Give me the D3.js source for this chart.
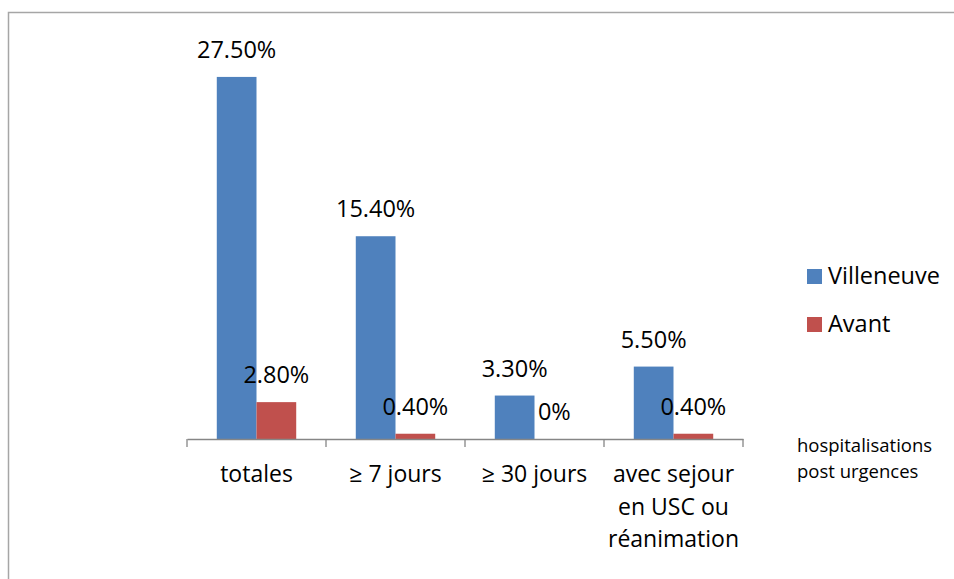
<!DOCTYPE html>
<html lang="fr">
<head>
    <meta charset="UTF-8">
    <title>Hospitalisations post urgences</title>
    <style>
        body { margin: 0; background: #fff; }
        svg { display: block; font-family: "Open Sans", sans-serif; }
    </style>
</head>
<body>
<svg></svg>
<script src="https://d3js.org/d3.v7.min.js"></script>
<script>
    var categories = [["totales"], ["\u2265 7 jours"], ["\u2265 30 jours"], ["avec sejour", "en USC ou", "r\u00e9animation"]];
    var series = ["Villeneuve", "Avant"];
    var villeneuve = [27.5, 15.4, 3.3, 5.5];
    var avant = [2.8, 0.4, 0, 0.4];
    var colors = ["#4F81BD", "#C0504D"];
    var axisTitle = ["hospitalisations", "post urgences"];

    var width = 954, height = 579;
    var svg = d3.select("svg").attr("width", width).attr("height", height);

    // outer frame, runs off the right and bottom edge like the original
    svg.append("rect")
        .attr("x", 8.5).attr("y", 12.5)
        .attr("width", 1000).attr("height", 700)
        .attr("fill", "none").attr("stroke", "#a6a6a6").attr("stroke-width", 1.5);

    var keys = categories.map(function (c, i) { return i; });
    var x = d3.scaleBand().domain(keys).range([187, 743]);
    var x1 = d3.scaleBand().domain(series).range([0, x.bandwidth()]).paddingOuter(0.75);
    var y = d3.scaleLinear().domain([0, 30]).range([439, 44]);

    var rows = keys.map(function (i) {
        return [{s: "Villeneuve", v: villeneuve[i]}, {s: "Avant", v: avant[i]}];
    });

    var groups = svg.selectAll("g.cat").data(rows).enter().append("g")
        .attr("class", "cat")
        .attr("transform", function (d, i) { return "translate(" + x(i) + ",0)"; });

    groups.selectAll("rect").data(function (d) { return d; }).enter().append("rect")
        .attr("x", function (d) { return x1(d.s); })
        .attr("y", function (d) { return y(d.v); })
        .attr("width", x1.bandwidth())
        .attr("height", function (d) { return y(0) - y(d.v); })
        .attr("fill", function (d, i) { return colors[i]; });

    groups.selectAll("text.val").data(function (d) { return d; }).enter().append("text")
        .attr("class", "val")
        .attr("x", function (d) { return x1(d.s) + x1.bandwidth() / 2; })
        .attr("y", function (d) { return y(d.v) - 19; })
        .attr("text-anchor", "middle")
        .attr("font-size", 23.5)
        .attr("fill", "#000")
        .text(function (d) { return d.v === 0 ? "0%" : d3.format(".2f")(d.v) + "%"; });

    // category axis
    var axis = svg.append("g").attr("transform", "translate(0," + y(0) + ")")
        .call(d3.axisBottom(x).tickValues([]).tickSize(0).tickSizeOuter(0));
    axis.select(".domain").attr("stroke", "#868686").attr("stroke-width", 1.3);
    axis.selectAll("line.sep").data(d3.range(categories.length + 1)).enter().append("line")
        .attr("class", "sep")
        .attr("x1", function (i) { return i < categories.length ? x(i) : x.range()[1]; })
        .attr("x2", function (i) { return i < categories.length ? x(i) : x.range()[1]; })
        .attr("y1", 0).attr("y2", 8)
        .attr("stroke", "#868686").attr("stroke-width", 1.3);

    var labels = svg.selectAll("text.cat").data(categories).enter().append("text")
        .attr("class", "cat")
        .attr("text-anchor", "middle")
        .attr("font-size", 23)
        .attr("fill", "#000")
        .attr("transform", function (d, i) { return "translate(" + (x(i) + x.bandwidth() / 2) + ",482)"; });
    labels.selectAll("tspan").data(function (d) { return d; }).enter().append("tspan")
        .attr("x", 0)
        .attr("y", function (d, i) { return i * 32.5; })
        .text(function (d) { return d; });

    svg.append("text")
        .attr("font-size", 18.5)
        .attr("fill", "#000")
        .selectAll("tspan").data(axisTitle).enter().append("tspan")
        .attr("x", 797)
        .attr("y", function (d, i) { return 452 + i * 26; })
        .text(function (d) { return d; });

    // legend
    var legend = svg.selectAll("g.leg").data(series).enter().append("g")
        .attr("class", "leg")
        .attr("transform", function (d, i) { return "translate(807," + (269 + i * 48) + ")"; });
    legend.append("rect").attr("width", 15).attr("height", 15)
        .attr("fill", function (d, i) { return colors[i]; });
    legend.append("text").attr("x", 21).attr("y", 14.5)
        .attr("font-size", 23.5).attr("fill", "#000")
        .text(function (d) { return d; });
</script>
</body>
</html>
